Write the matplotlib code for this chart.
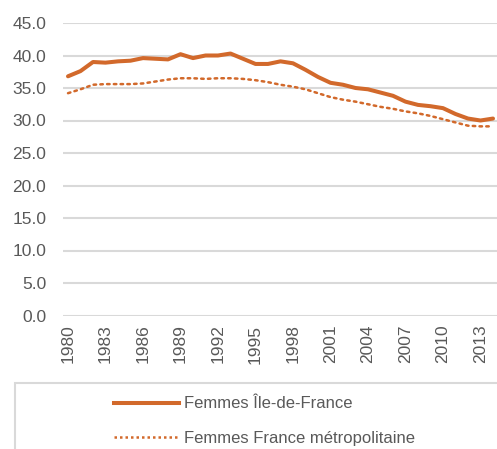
import matplotlib.pyplot as plt
from matplotlib.lines import Line2D
from matplotlib.patches import Rectangle

plt.rcParams['font.family'] = ['Liberation Sans', 'DejaVu Sans']

years = list(range(1980, 2015))
idf = [36.8, 37.6, 39.0, 38.9, 39.1, 39.2, 39.6, 39.5, 39.4, 40.2,
       39.6, 40.0, 40.0, 40.3, 39.5, 38.7, 38.7, 39.1, 38.8, 37.8,
       36.7, 35.8, 35.5, 35.0, 34.8, 34.3, 33.8, 32.9, 32.4, 32.2,
       31.9, 31.0, 30.3, 30.0, 30.3]
metro = [34.2, 34.8, 35.5, 35.6, 35.6, 35.6, 35.7, 36.0, 36.3, 36.5,
         36.5, 36.4, 36.5, 36.5, 36.4, 36.2, 35.9, 35.5, 35.2, 34.8,
         34.2, 33.6, 33.2, 32.9, 32.5, 32.1, 31.8, 31.4, 31.1, 30.7,
         30.2, 29.7, 29.2, 29.1, 29.1]
labels = ['Femmes Île-de-France', 'Femmes France métropolitaine']
tick_years = list(range(1980, 2014, 3))

orange = '#D2692B'
grey_txt = '#595959'
grid_col = '#D9D9D9'

fig = plt.figure(figsize=(4.97, 4.49), dpi=100)
ax = fig.add_axes([63 / 497, 1 - 315.5 / 449, 434 / 497, (315.5 - 23) / 449])

ax.plot(years, idf, color=orange, lw=2.9, solid_capstyle='round',
        solid_joinstyle='round')
ax.plot(years, metro, color=orange, lw=1.8, linestyle=(0, (1, 1.7)),
        dash_capstyle='round')

ax.set_ylim(0, 45)
ax.set_yticks(range(0, 46, 5))
ax.set_yticklabels([f'{v:.1f}' for v in range(0, 46, 5)])
ax.set_xlim(1979.6, 2014.32)
ax.set_xticks(tick_years)
ax.set_xticklabels([str(y) for y in tick_years], rotation=90)

ax.grid(axis='y', color=grid_col, lw=1.5)
ax.set_axisbelow(True)
for s in ax.spines.values():
    s.set_visible(False)
ax.tick_params(axis='both', length=0, colors=grey_txt, labelsize=12.5)
ax.tick_params(axis='y', pad=12)
ax.tick_params(axis='x', pad=6.5)

# legend box, cut off on the right and bottom like the source
fig.patches.append(Rectangle((15 / 497, -0.05), 1.0, 0.05 + 66 / 449,
                             transform=fig.transFigure, fill=False,
                             edgecolor=grid_col, lw=1.5))
handles = [Line2D([], [], color=orange, lw=2.9),
           Line2D([], [], color=orange, lw=1.8, linestyle=(0, (1, 1.2)))]
fig.legend(handles, labels, loc='upper left',
           bbox_to_anchor=(106 / 497, 1 - 388 / 449), frameon=False,
           handlelength=3.85, handletextpad=0.3, labelspacing=1.15,
           fontsize=12, labelcolor=grey_txt, borderpad=0)

fig.savefig('out.png', dpi=100)
